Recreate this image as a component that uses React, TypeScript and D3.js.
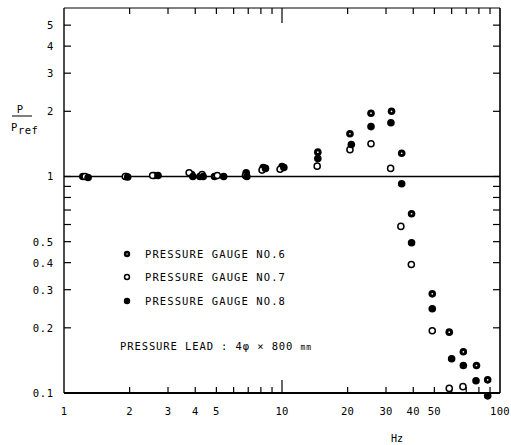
import React from "react";
import * as d3 from "d3";

// Series: pressure gauge No.6 (dotted circle), No.7 (open), No.8 (filled)
const hz6 = [1.22, 1.93, 2.6, 3.85, 4.2, 4.9, 6.85, 8.2, 10.0, 14.6, 20.5, 25.6, 31.8, 35.4, 39.3, 48.9, 58.5, 67.9, 78, 87.8];
const p6 = [1.0, 1.0, 1.01, 1.02, 1.0, 1.0, 1.04, 1.1, 1.11, 1.295, 1.575, 1.96, 2.0, 1.28, 0.673, 0.287, 0.191, 0.155, 0.134, 0.115];

const hz7 = [1.25, 1.91, 2.55, 3.75, 4.3, 5.05, 6.8, 8.1, 9.8, 14.5, 20.5, 25.6, 31.5, 35.1, 39.2, 48.9, 58.5, 67.6];
const p7 = [1.0, 1.0, 1.01, 1.04, 1.02, 1.01, 1.01, 1.07, 1.08, 1.116, 1.33, 1.416, 1.09, 0.588, 0.392, 0.194, 0.105, 0.107];

const hz8 = [1.29, 1.96, 2.7, 3.9, 4.35, 5.4, 6.9, 8.4, 10.2, 14.6, 20.8, 25.6, 31.6, 35.4, 39.3, 48.9, 60, 67.9, 77.6, 87.8];
const p8 = [0.99, 0.995, 1.01, 1.0, 1.0, 1.0, 1.0, 1.09, 1.1, 1.21, 1.405, 1.7, 1.77, 0.925, 0.494, 0.245, 0.144, 0.134, 0.114, 0.097];

const yTickLabels = [0.1, 0.2, 0.3, 0.4, 0.5, 1, 2, 3, 4, 5];
const yTicks = [0.1, 0.2, 0.3, 0.4, 0.5, 0.6, 0.7, 0.8, 0.9, 1, 2, 3, 4, 5];
const xTickLabels = [1, 2, 3, 4, 5, 10, 20, 30, 40, 50, 100];
const xTicks = [2, 3, 4, 5, 6, 7, 8, 9, 10, 20, 30, 40, 50, 60, 70, 80, 90];
const legendLabels = ["PRESSURE GAUGE NO.6", "PRESSURE GAUGE NO.7", "PRESSURE GAUGE NO.8"];

const FONT = "'DejaVu Sans Mono', monospace";

function Marker({ kind, cx, cy, r = 3.8 }: { kind: number; cx: number; cy: number; r?: number }) {
  if (kind === 0) {
    return (
      <g>
        <circle cx={cx} cy={cy} r={r} fill="#000" />
        <circle cx={cx} cy={cy} r={r * 0.22} fill="#fff" />
      </g>
    );
  }
  if (kind === 1) {
    return <circle cx={cx} cy={cy} r={r - 0.75} fill="#fff" stroke="#000" strokeWidth={1.5} />;
  }
  return <circle cx={cx} cy={cy} r={r} fill="#000" />;
}

export default function App() {
  const x = d3.scaleLog().domain([1, 100]).range([64, 500]);
  const y = d3.scaleLog().domain([0.1, 6]).range([393, 8]);
  const L = 64, R = 500, T = 8, B = 393;

  const series = [
    { hz: hz6, p: p6 },
    { hz: hz7, p: p7 },
    { hz: hz8, p: p8 },
  ];

  const legendY = [254, 277, 301];

  return (
    <svg width={511} height={445} style={{ position: "absolute", left: 0, top: 0, background: "#fff" }} fontFamily={FONT}>
      <rect x={0} y={0} width={511} height={445} fill="#fff" />
      {/* frame */}
      <line x1={L} y1={T} x2={R} y2={T} stroke="#000" strokeWidth={1.2} />
      <line x1={L} y1={B} x2={R} y2={B} stroke="#000" strokeWidth={1.8} />
      <line x1={L} y1={T} x2={L} y2={B} stroke="#000" strokeWidth={1.4} />
      <line x1={R} y1={T} x2={R} y2={B} stroke="#000" strokeWidth={1.6} />
      {/* reference line at 1 */}
      <line x1={L} y1={y(1)} x2={R} y2={y(1)} stroke="#000" strokeWidth={1.4} />

      {/* y ticks */}
      {yTicks.map((t) => (
        <g key={"yt" + t}>
          <line x1={L} y1={y(t)} x2={L + 7} y2={y(t)} stroke="#000" strokeWidth={1.2} />
          <line x1={R} y1={y(t)} x2={R - 7} y2={y(t)} stroke="#000" strokeWidth={1.2} />
        </g>
      ))}
      {yTickLabels.map((t) => (
        <text key={"yl" + t} x={54} y={y(t) + 4} textAnchor="end" fontSize={10.5} letterSpacing={0.8} fill="#000">
          {String(t)}
        </text>
      ))}

      {/* x ticks */}
      {xTicks.map((t) => {
        const len = t === 10 ? 13 : 6;
        return (
          <g key={"xt" + t}>
            <line x1={x(t)} y1={B} x2={x(t)} y2={B - len} stroke="#000" strokeWidth={1.2} />
            <line x1={x(t)} y1={T} x2={x(t)} y2={T + (t === 10 ? 15 : 6)} stroke="#000" strokeWidth={1.2} />
          </g>
        );
      })}
      {xTickLabels.map((t) => (
        <text key={"xl" + t} x={x(t)} y={415} textAnchor="middle" fontSize={10.5} letterSpacing={0.3} fill="#000">
          {String(t)}
        </text>
      ))}
      <text x={397} y={442} textAnchor="middle" fontSize={10} fill="#000">Hz</text>

      {/* y axis title */}
      <text x={20} y={113} textAnchor="middle" fontSize={10.5} fill="#000">P</text>
      <line x1={12} y1={116} x2={32} y2={116} stroke="#000" strokeWidth={1} />
      <text x={11} y={131} fontSize={10.5} fill="#000">P</text>
      <text x={18} y={134} fontSize={10.5} letterSpacing={0.4} fill="#000">ref</text>

      {/* data */}
      {series.map((s, si) =>
        s.hz.map((h, i) => <Marker key={si + "-" + i} kind={si} cx={x(h)} cy={y(s.p[i])} />)
      )}

      {/* legend */}
      {legendLabels.map((lab, i) => (
        <g key={"lg" + i}>
          <Marker kind={i} cx={127} cy={legendY[i]} r={3.2} />
          <text x={145} y={legendY[i] + 4} fontSize={10.5} letterSpacing={1.1} fill="#000">{lab}</text>
        </g>
      ))}
      <text x={120} y={350} fontSize={10.5} letterSpacing={0.9} fill="#000">
        PRESSURE LEAD : 4φ × 800 <tspan fontSize={8}>mm</tspan>
      </text>
    </svg>
  );
}
